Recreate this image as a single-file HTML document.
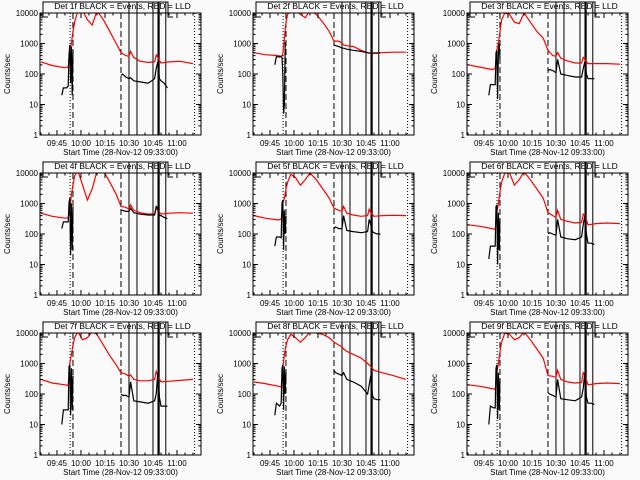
<!DOCTYPE html>
<html><head><meta charset="utf-8"><style>
html,body{margin:0;padding:0;background:#fafafa;}
svg{display:block;font-family:"Liberation Sans",sans-serif;}
</style></head><body>
<svg id="chart" width="640" height="480" viewBox="0 0 640 480"></svg>
<script>
// ---- data ----
const panelTitles = ["Det 1f","Det 2f","Det 3f","Det 4f","Det 5f","Det 6f","Det 7f","Det 8f","Det 9f"];
const xTickMinutes = [45,60,75,90,105,120];
const xTickLabels = ["09:45","10:00","10:15","10:30","10:45","11:00"];
const yTickValues = [1,10,100,1000,10000];
const yTickLabels = ["1","10","100","1000","10000"];
const redTimes = [35,42,50,52,53,54,55,56,58,61,64,67,70,74,78,82,85,88,90,91,93,97,102,106,107,108,110,115,122,130];
const red1 = [250,190,160,170,600,1000,2500,5000,12000,12000,6000,4000,12000,6000,2500,1000,500,400,380,550,350,260,240,250,420,350,230,250,260,220];
const red2 = [500,430,400,380,450,1500,5000,9000,12000,12000,9000,7000,12000,9000,5000,2500,1200,1200,1000,900,850,800,600,500,490,480,490,500,520,520];
const red3 = [200,170,140,150,600,1000,2500,6000,10000,9000,5000,4500,10000,5000,2500,1500,600,400,380,500,330,270,230,230,350,300,220,220,220,210];
const red4 = [480,380,330,340,600,2000,4000,8000,12000,4000,1300,3000,12000,12000,5000,2000,800,750,650,900,600,500,450,460,700,600,450,480,500,480];
const red5 = [400,330,290,300,1000,1500,3000,5000,9000,7000,4000,6000,10000,6000,3000,1500,700,600,550,800,480,420,380,400,650,500,380,400,410,400];
const red6 = [200,180,150,140,500,1000,2500,5000,10000,10000,4000,6000,11000,6000,3000,1500,500,400,350,600,300,260,230,240,450,400,200,220,230,220];
const red7 = [300,230,200,190,1000,2000,4000,7000,11000,6000,7000,11000,9000,4000,1800,900,500,450,380,420,300,270,270,300,550,400,250,260,280,300];
const red8 = [250,220,180,170,700,2000,4000,6000,9000,7000,5000,7000,11000,10000,9000,7000,5000,4000,3500,3000,2500,2000,1500,1000,900,800,600,500,400,300];
const red9 = [200,180,150,140,500,1000,2500,5000,10000,9000,6000,7000,11000,6000,3000,1500,400,380,350,600,300,250,230,240,500,400,200,220,230,220];
const blackTimes = [48,49,51,52,52.5,53,53.5,54,54.5,55,56,85,86,88,90,91,93,97,102,106,107,108,109,110,112,114];
const black1 = [20,35,35,40,400,900,50,800,20,600,null,90,100,80,70,75,60,55,50,70,150,250,70,60,50,35];
const black2 = [200,370,360,370,360,100,5,10,1000,900,null,900,850,800,700,700,650,600,550,500,480,480,470,480,480,500];
const black3 = [20,45,45,45,500,600,15,500,1000,300,null,130,140,130,110,300,100,90,80,80,150,250,100,70,70,70];
const black4 = [150,250,250,250,1000,1500,20,1000,30,800,null,600,600,550,550,700,500,450,420,420,800,700,400,400,350,320];
const black5 = [40,80,80,75,1000,1300,30,600,100,400,null,150,170,150,150,400,130,120,110,120,300,200,120,110,100,100];
const black6 = [15,40,40,40,800,900,10,500,30,300,null,100,110,100,90,300,80,70,65,80,200,400,100,50,50,45];
const black7 = [10,30,30,30,800,900,20,700,30,400,null,100,90,90,80,250,60,55,50,60,100,500,80,40,40,40];
const black8 = [20,50,40,50,700,900,30,800,100,500,null,600,500,450,400,500,300,250,180,100,200,400,90,70,65,65];
const black9 = [10,40,35,35,700,900,15,500,30,300,null,110,100,90,80,300,70,65,60,80,150,500,80,50,50,45];
const redSeries = [red1,red2,red3,red4,red5,red6,red7,red8,red9];
const blackSeries = [black1,black2,black3,black4,black5,black6,black7,black8,black9];
const dottedMarkers = [53.2,131];
const dashedMarkers = [55,85];
const solidMarkers = [90,95,105,113];
const thickMarkers = [108.5];

// ---- drawing ----
const NS = "http://www.w3.org/2000/svg";
const svg = document.getElementById("chart");
function mk(tag, attrs, parent){ const e=document.createElementNS(NS,tag); for(const k in attrs) e.setAttribute(k,attrs[k]); (parent||svg).appendChild(e); return e; }
const colX=[40,253,467], rowY=[13,173,333], W=161, H=122, T0=34.4, T1=135;

for(let p=0;p<9;p++){
  const X0=colX[p%3], Y0=rowY[Math.floor(p/3)];
  const g=mk("g",{});
  
  
  const xs=t=>X0+(t-T0)/(T1-T0)*W;
  const ys=v=>Y0+H-Math.log10(v)/4*H;
  const cid="clip"+p;
  const cp=mk("clipPath",{id:cid},g); mk("rect",{x:X0,y:Y0,width:W,height:H},cp);
  dottedMarkers.forEach(t=>{const l=mk("line",{x1:xs(t),x2:xs(t),y1:Y0,y2:Y0+H,stroke:"#000","stroke-width":1,"stroke-dasharray":"1,2"},g);});
  dashedMarkers.forEach(t=>{const l=mk("line",{x1:xs(t),x2:xs(t),y1:Y0,y2:Y0+H,stroke:"#000","stroke-width":1,"stroke-dasharray":"6,3"},g);});
  solidMarkers.forEach(t=>{const l=mk("line",{x1:xs(t),x2:xs(t),y1:Y0-11,y2:Y0+H,stroke:"#000","stroke-width":1},g);});
  thickMarkers.forEach(t=>{const l=mk("line",{x1:xs(t),x2:xs(t),y1:Y0-11,y2:Y0+H,stroke:"#000","stroke-width":2.2},g);});
  const bx1=X0+3, bx2=X0+128;
  const br=mk("path",{d:`M${bx1+5},${Y0+4}H${bx1}V${Y0-11}H${bx2}V${Y0+4}H${bx2+5}`,fill:"none",stroke:"#000","stroke-width":1},g);
  
  
  const mkPath=(ts,vs)=>{let d="",pen=false;ts.forEach((t,i)=>{const v=vs[i];if(v==null){pen=false;return;}d+=(pen?"L":"M")+xs(t).toFixed(1)+","+ys(v).toFixed(1);pen=true;});return d;};
  const rp=mk("path",{d:mkPath(redTimes,redSeries[p]),fill:"none",stroke:"#ff0000","stroke-width":1.2,"clip-path":`url(#${cid})`},g);
  
  
  const bp=mk("path",{d:mkPath(blackTimes,blackSeries[p]),fill:"none",stroke:"#000","stroke-width":1.2,"clip-path":`url(#${cid})`},g);
  
  
  const box=mk("rect",{x:X0,y:Y0,width:W,height:H,fill:"none",stroke:"#000","stroke-width":1},g);
  
  
  let td="";
  yTickValues.forEach((v,i)=>{
    const y=ys(v);
    td+=`M${X0},${y}h5M${X0+W},${y}h-5`;
    if(i<yTickValues.length-1) for(let m=2;m<10;m++){const ym=ys(v*m);td+=`M${X0},${ym}h2.5M${X0+W},${ym}h-2.5`;}
    const tl=mk("text",{x:X0-2,y:y+3,"font-size":8,"text-anchor":"end",fill:"#000"},g);
    tl.textContent=yTickLabels[i];
    
    
  });
  for(let t=35;t<=T1;t+=5){const x=xs(t);const len=(xTickMinutes.includes(t)?5:2.5);td+=`M${x},${Y0+H}v${-len}M${x},${Y0}v${len}`;}
  mk("path",{d:td,stroke:"#000","stroke-width":1,fill:"none"},g);
  xTickMinutes.forEach((t,i)=>{
    const tl=mk("text",{x:xs(t),y:Y0+H+11,"font-size":8,"text-anchor":"middle",fill:"#000"},g);
    tl.textContent=xTickLabels[i];
    
    
  });
  const xt=mk("text",{x:X0+W/2,y:Y0+H+20,"font-size":8,"text-anchor":"middle",fill:"#000"},g);
  xt.textContent="Start Time (28-Nov-12 09:33:00)";
  
  
  const yt=mk("text",{x:0,y:0,"font-size":8,"text-anchor":"middle",fill:"#000",transform:`translate(${X0-30},${Y0+H/2}) rotate(-90)`},g);
  yt.textContent="Counts/sec";
  
  
  const ti=mk("text",{x:X0+W/2+2,y:Y0-4,"font-size":8.5,"text-anchor":"middle",fill:"#000"},g);
  ti.textContent=panelTitles[p]+" BLACK = Events, RED = LLD";
  
  
}
</script>
</body></html>
